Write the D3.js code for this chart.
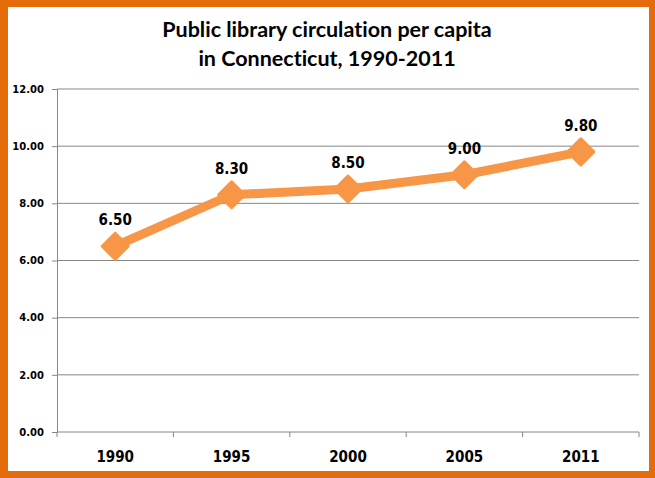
<!DOCTYPE html>
<html>
<head>
<meta charset="utf-8">
<script src="https://cdn.jsdelivr.net/npm/d3@7"></script>
<style>
  body { margin: 0; background: #fff; }
  svg { display: block; }
</style>
</head>
<body>
<div id="chart"></div>
<script>
// data
var years = ["1990", "1995", "2000", "2005", "2011"];
var values = [6.5, 8.3, 8.5, 9.0, 9.8];
var yTicks = [0, 2, 4, 6, 8, 10, 12];
var titleLines = ["Public library circulation per capita", "in Connecticut, 1990-2011"];

var width = 655, height = 478;
var margin = { top: 89, right: 16, bottom: 46, left: 57 };
var lineColor = "#F79646";
var axisColor = "#868686";

var svg = d3.select("#chart").append("svg")
  .attr("width", width)
  .attr("height", height);

// orange frame
svg.append("rect")
  .attr("width", width).attr("height", height)
  .attr("fill", "#E46C0A");
svg.append("rect")
  .attr("x", 8).attr("y", 7)
  .attr("width", 649 - 8).attr("height", 471 - 7)
  .attr("fill", "#fff");

var x = d3.scaleBand()
  .domain(years)
  .range([margin.left, width - margin.right]);
var y = d3.scaleLinear()
  .domain([0, 12])
  .range([height - margin.bottom, margin.top]);

// title
svg.append("text")
  .attr("x", 327)
  .attr("text-anchor", "middle")
  .style("font-family", "Lato, 'Open Sans', sans-serif")
  .style("font-weight", "bold")
  .style("font-size", "21.5px")
  .style("font-variant-ligatures", "none")
  .attr("fill", "#000")
  .selectAll("tspan")
  .data(titleLines)
  .enter().append("tspan")
  .attr("x", 327)
  .attr("y", function (d, i) { return 37 + i * 29; })
  .text(function (d) { return d; });

// gridlines
svg.append("g")
  .selectAll("line")
  .data(yTicks.slice(1))
  .enter().append("line")
  .attr("x1", margin.left).attr("x2", width - margin.right)
  .attr("y1", function (d) { return y(d); })
  .attr("y2", function (d) { return y(d); })
  .attr("stroke", axisColor);

// y axis
var yAxis = svg.append("g")
  .attr("transform", "translate(" + margin.left + ",0)")
  .call(d3.axisLeft(y).tickValues(yTicks).tickSize(5).tickPadding(8)
    .tickFormat(d3.format(".2f")));
yAxis.select(".domain").attr("stroke", axisColor);
yAxis.selectAll(".tick line").attr("stroke", axisColor);
yAxis.selectAll(".tick text")
  .style("font-family", "'DejaVu Sans', Verdana, sans-serif")
  .style("font-weight", "bold")
  .style("font-size", "10px")
  .attr("fill", "#000");

// x axis: ticks on category boundaries
var xAxisG = svg.append("g")
  .attr("transform", "translate(0," + y(0) + ")");
xAxisG.append("line")
  .attr("x1", margin.left).attr("x2", width - margin.right)
  .attr("stroke", axisColor);
var bounds = years.map(function (d) { return x(d); }).concat([x.range()[1]]);
xAxisG.selectAll(".bound")
  .data(bounds)
  .enter().append("line")
  .attr("class", "bound")
  .attr("x1", function (d) { return d; })
  .attr("x2", function (d) { return d; })
  .attr("y1", 0).attr("y2", 5)
  .attr("stroke", axisColor);
xAxisG.selectAll("text")
  .data(years)
  .enter().append("text")
  .attr("x", function (d) { return x(d) + x.bandwidth() / 2; })
  .attr("y", 30)
  .attr("text-anchor", "middle")
  .style("font-family", "'DejaVu Sans Condensed', 'DejaVu Sans', sans-serif")
  .style("font-weight", "bold")
  .style("font-size", "15px")
  .attr("fill", "#000")
  .text(function (d) { return d; });

// series
var pts = years.map(function (d, i) { return { year: d, value: values[i] }; });
var line = d3.line()
  .x(function (d) { return x(d.year) + x.bandwidth() / 2; })
  .y(function (d) { return y(d.value); });

svg.append("path")
  .datum(pts)
  .attr("fill", "none")
  .attr("stroke", lineColor)
  .attr("stroke-width", 9)
  .attr("stroke-linejoin", "round")
  .attr("d", line);

svg.append("g")
  .selectAll("path")
  .data(pts)
  .enter().append("path")
  .attr("transform", function (d) {
    return "translate(" + (x(d.year) + x.bandwidth() / 2) + "," + y(d.value) + ")";
  })
  .attr("d", "M0,-13L13,0L0,13L-13,0Z")
  .attr("fill", lineColor)
  .attr("stroke", lineColor)
  .attr("stroke-width", 3)
  .attr("stroke-linejoin", "round");

// data labels
svg.append("g")
  .selectAll("text")
  .data(pts)
  .enter().append("text")
  .attr("x", function (d) { return x(d.year) + x.bandwidth() / 2; })
  .attr("y", function (d) { return y(d.value) - 21; })
  .attr("text-anchor", "middle")
  .style("font-family", "'DejaVu Sans Condensed', 'DejaVu Sans', sans-serif")
  .style("font-weight", "bold")
  .style("font-size", "15px")
  .attr("fill", "#000")
  .text(function (d) { return d3.format(".2f")(d.value); });
</script>
</body>
</html>
